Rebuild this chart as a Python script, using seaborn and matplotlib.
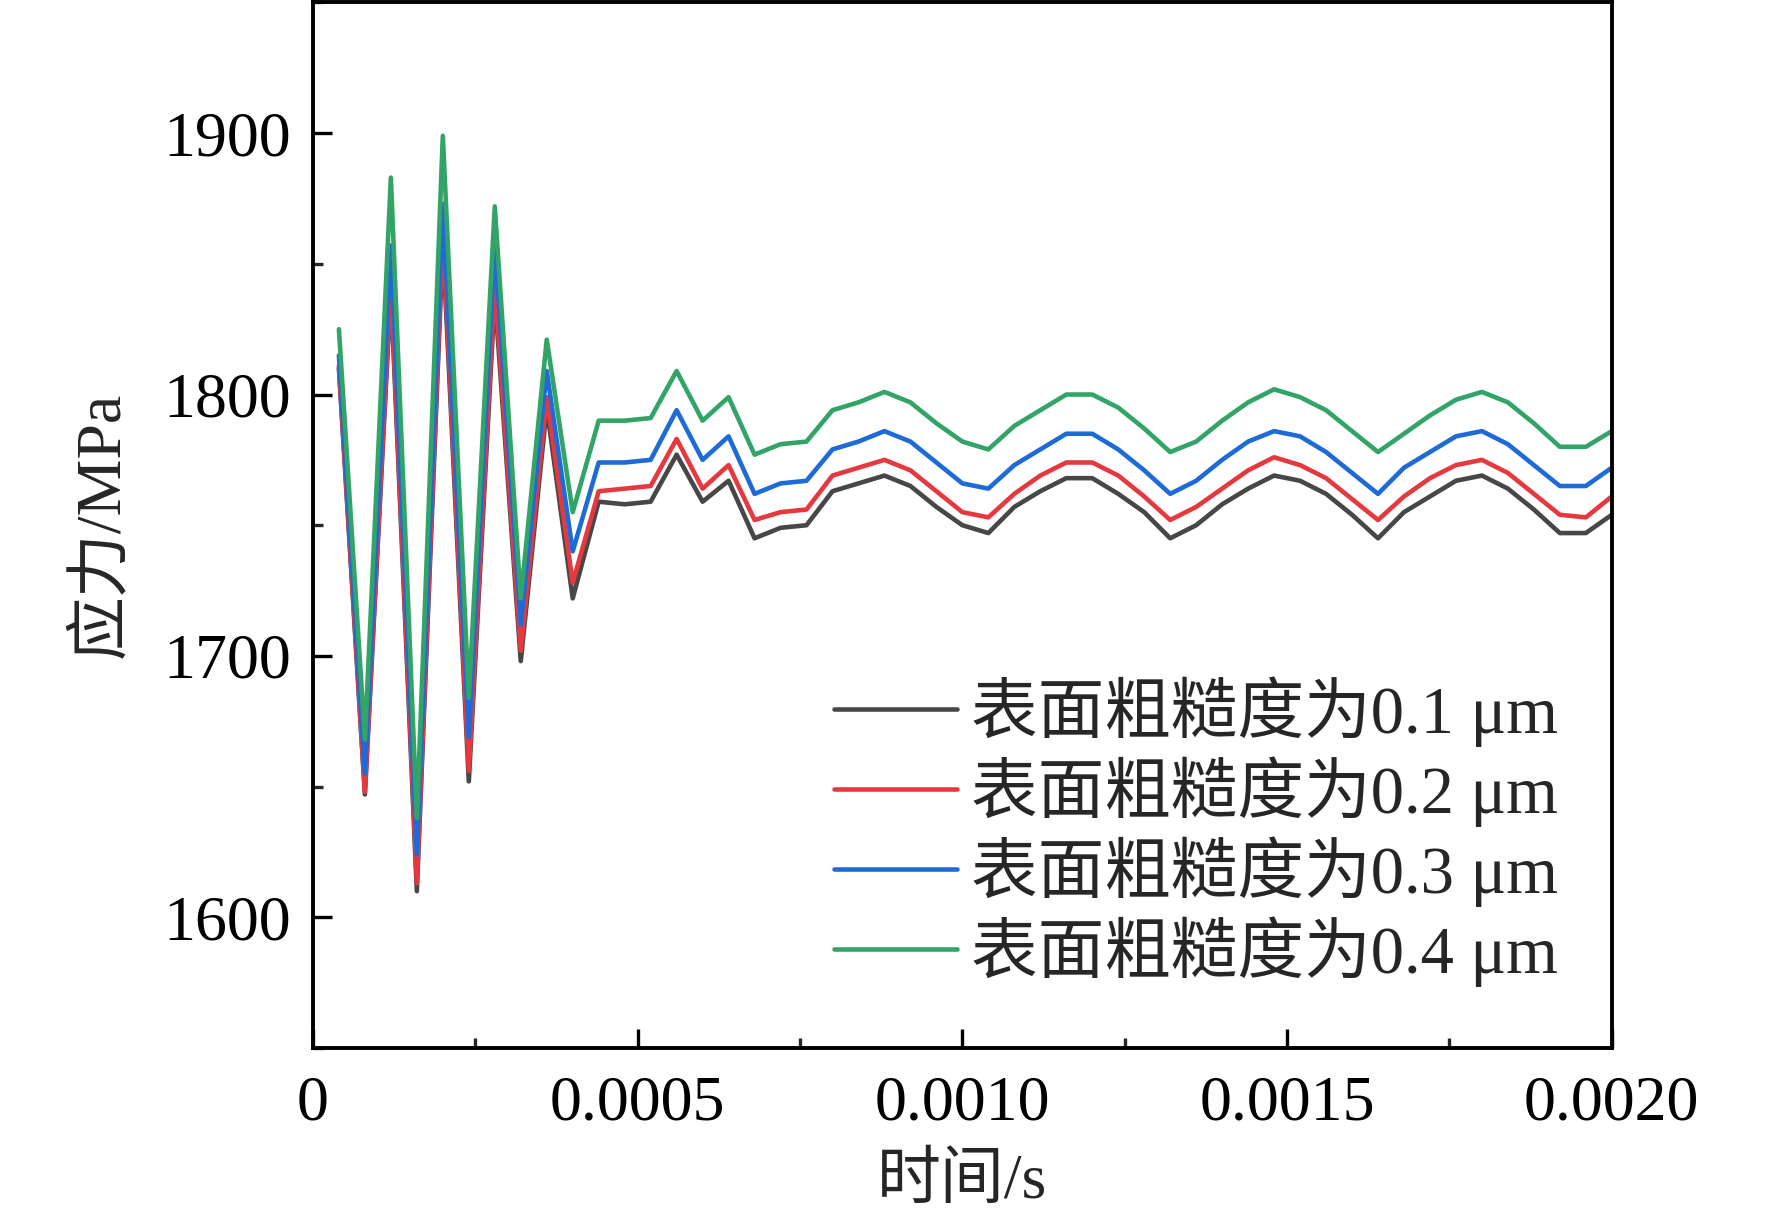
import numpy as np
import pandas as pd
import matplotlib
matplotlib.use("Agg")
import matplotlib.pyplot as plt
from matplotlib.ticker import FixedLocator, MultipleLocator
import seaborn as sns

# ---------------- data ----------------
time_s = [0.00004, 0.00008, 0.00012, 0.00016, 0.00020, 0.00024, 0.00028, 0.00032, 0.00036, 0.00040,
          0.00044, 0.00048, 0.00052, 0.00056, 0.00060, 0.00064, 0.00068, 0.00072, 0.00076, 0.00080,
          0.00084, 0.00088, 0.00092, 0.00096, 0.00100, 0.00104, 0.00108, 0.00112, 0.00116, 0.00120,
          0.00124, 0.00128, 0.00132, 0.00136, 0.00140, 0.00144, 0.00148, 0.00152, 0.00156, 0.00160,
          0.00164, 0.00168, 0.00172, 0.00176, 0.00180, 0.00184, 0.00188, 0.00192, 0.00196, 0.00200]

stress_01 = [1810, 1647, 1840, 1610, 1858, 1652, 1838, 1698, 1795, 1722,
             1759, 1758, 1759, 1777, 1759, 1767, 1745, 1749, 1750, 1763,
             1766, 1769, 1765, 1757, 1750, 1747, 1757, 1763, 1768, 1768,
             1762, 1755, 1745, 1750, 1758, 1764, 1769, 1767, 1762, 1754,
             1745, 1755, 1761, 1767, 1769, 1764, 1756, 1747, 1747, 1754]
stress_02 = [1811, 1648, 1843, 1613, 1862, 1656, 1842, 1702, 1799, 1728,
             1763, 1764, 1765, 1783, 1764, 1773, 1752, 1755, 1756, 1769,
             1772, 1775, 1771, 1763, 1755, 1753, 1762, 1769, 1774, 1774,
             1769, 1761, 1752, 1757, 1764, 1771, 1776, 1773, 1768, 1760,
             1752, 1761, 1768, 1773, 1775, 1770, 1762, 1754, 1753, 1761]
stress_03 = [1815, 1655, 1857, 1624, 1873, 1669, 1857, 1712, 1809, 1740,
             1774, 1774, 1775, 1794, 1775, 1784, 1762, 1766, 1767, 1779,
             1782, 1786, 1782, 1774, 1766, 1764, 1773, 1779, 1785, 1785,
             1779, 1771, 1762, 1767, 1775, 1782, 1786, 1784, 1778, 1770,
             1762, 1772, 1778, 1784, 1786, 1781, 1773, 1765, 1765, 1772]
stress_04 = [1825, 1668, 1883, 1638, 1899, 1684, 1872, 1722, 1821, 1755,
             1790, 1790, 1791, 1809, 1790, 1799, 1777, 1781, 1782, 1794,
             1797, 1801, 1797, 1789, 1782, 1779, 1788, 1794, 1800, 1800,
             1795, 1787, 1778, 1782, 1790, 1797, 1802, 1799, 1794, 1786,
             1778, 1785, 1792, 1798, 1801, 1797, 1789, 1780, 1780, 1786]

series_labels = ["表面粗糙度为0.1 μm", "表面粗糙度为0.2 μm", "表面粗糙度为0.3 μm", "表面粗糙度为0.4 μm"]
series_colors = ["#474747", "#E6393F", "#1E6BD8", "#33A468"]

x_ticks = [0, 0.0005, 0.0010, 0.0015, 0.0020]
x_tick_labels = ["0", "0.0005", "0.0010", "0.0015", "0.0020"]
y_ticks = [1600, 1700, 1800, 1900]

# ---------------- styling ----------------
sns.set_style("ticks")
plt.rcParams["font.family"] = ["Liberation Serif", "Noto Sans CJK SC", "DejaVu Sans"]
plt.rcParams["axes.unicode_minus"] = False

frames = []
for lab, vals in zip(series_labels, [stress_01, stress_02, stress_03, stress_04]):
    frames.append(pd.DataFrame({"时间": time_s, "应力": vals, "series": lab}))
df = pd.concat(frames, ignore_index=True)

fig = plt.figure(figsize=(17.72, 12.26), dpi=100)
ax = fig.add_axes([0.1766, 0.1452, 0.9096 - 0.1766, 0.998 - 0.1452])

sns.lineplot(data=df, x="时间", y="应力", hue="series", hue_order=series_labels,
             palette=dict(zip(series_labels, series_colors)), estimator=None, sort=False,
             linewidth=3.3, ax=ax, legend=True)

ax.set_xlim(0, 0.002)
ax.set_ylim(1550, 1950)
ax.xaxis.set_major_locator(FixedLocator(x_ticks))
ax.set_xticklabels(x_tick_labels)
ax.xaxis.set_minor_locator(MultipleLocator(0.00025))
ax.yaxis.set_major_locator(FixedLocator(y_ticks))
ax.yaxis.set_minor_locator(MultipleLocator(50))

for side in ["left", "bottom", "right", "top"]:
    ax.spines[side].set_linewidth(2.8)
    ax.spines[side].set_color("black")

ax.tick_params(axis="both", which="major", direction="in", length=14, width=2.4,
               labelsize=46, pad=16, colors="black", top=False, right=False)
ax.tick_params(axis="both", which="minor", direction="in", length=7, width=2.4,
               top=False, right=False)
ax.tick_params(axis="x", which="major", pad=20)

ax.set_xlabel("时间/s", fontsize=46, labelpad=14)
ax.set_ylabel("应力/MPa", fontsize=46, labelpad=22)

leg = ax.legend(loc="upper left", bbox_to_anchor=(834 / 1772, 1 - 676 / 1226),
                bbox_transform=fig.transFigure, frameon=False, fontsize=48,
                handlelength=1.85, handletextpad=0.2, labelspacing=0.14, borderpad=0,
                borderaxespad=0)
for line in leg.get_lines():
    line.set_linewidth(3.3)

fig.savefig("out.png", dpi=100, facecolor="white")
